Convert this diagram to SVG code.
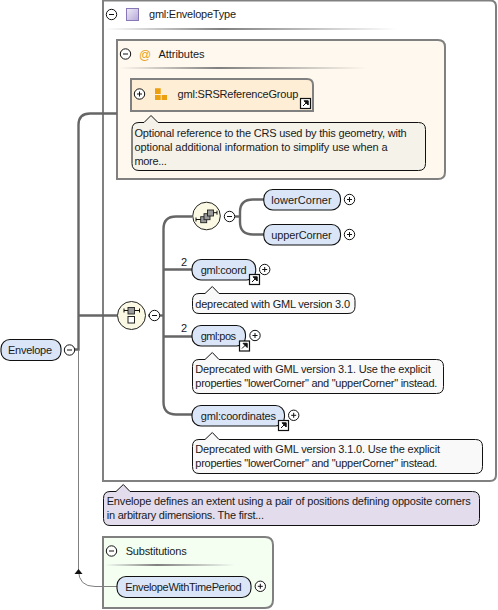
<svg xmlns="http://www.w3.org/2000/svg" width="498" height="610" viewBox="0 0 498 610">
<style>
text{font-family:"Liberation Sans",Arial,sans-serif;font-size:11px;fill:#1a1a1a}
.b{stroke:#808080;stroke-width:2}
.el{fill:#dae6f8;stroke:#111;stroke-width:1.1}
.c{fill:none;stroke:#666;stroke-width:2.4}
.t{fill:#fff;stroke:#111;stroke-width:1}
.s{fill:none;stroke:#111;stroke-width:1}
.note{stroke:#111;stroke-width:1}
.comp{fill:#fbf9e4;stroke:#222;stroke-width:1}
.gr{fill:#999;stroke:#222;stroke-width:.9}
</style>
<defs>
<linearGradient id="sep"><stop offset="0" stop-color="#808080" stop-opacity="0"/><stop offset=".4" stop-color="#808080"/><stop offset="1" stop-color="#808080" stop-opacity="0"/></linearGradient>
<linearGradient id="purp" x1="0" y1="0" x2="1" y2="1"><stop offset="0" stop-color="#f0ecf8"/><stop offset="1" stop-color="#b4a8d8"/></linearGradient>
<g id="minus"><circle r="5.200" class="t"/><path d="M-2.500 0H2.500" class="s"/></g>
<g id="plus"><circle r="5.200" class="t"/><path d="M-2.500 0H2.500M0-2.500V2.500" class="s"/></g>
<g id="link"><rect width="10" height="10" fill="#fff" stroke="#111" stroke-width="1.200"/><path d="M2.500 7.500L6 4M3.500 2.300H7.700V6.500Z" fill="#111" stroke="#111"/></g>
</defs>

<g id="type">
<path d="M103 0.500H490Q496 0.500 496 6.500V475Q496 481 490 481H103Z" fill="#fff" class="b"/>
<use href="#minus" x="111.500" y="14.500"/>
<rect x="126.500" y="8.500" width="12" height="12" fill="url(#purp)" stroke="#8878b8"/>
<text x="149" y="18" textLength="87">gml:EnvelopeType</text>
<rect x="105" y="28" width="292" height="2" fill="url(#sep)"/>
</g>

<g id="attributes">
<path d="M117 40H438Q445 40 445 47V172Q445 179 438 179H117Z" fill="#fff8ee" class="b"/>
<use href="#minus" x="125.500" y="54"/>
<text x="139" y="58.500" style="fill:#e8a020;font-size:12px" textLength="10">@</text>
<text x="158.500" y="58" textLength="46">Attributes</text>
<rect x="119" y="67" width="248" height="2" fill="url(#sep)"/>
</g>

<g id="substitutions">
<path d="M103 537H265Q273 537 273 545V600Q273 608 265 608H103Z" fill="#f4fff2" class="b"/>
<use href="#minus" x="111.500" y="551"/>
<text x="125.700" y="555" textLength="61">Substitutions</text>
<rect x="105" y="564" width="130" height="2" fill="url(#sep)"/>
</g>

<g id="connectors">
<path class="c" d="M75 349.500H78.500V125Q78.500 113.500 90 113.500H117"/>
<path class="c" d="M78 315.500H117"/>
<path class="c" d="M148 315.500H163.500"/>
<path class="c" d="M192 216.500H176Q163.500 216.500 163.500 229V402Q163.500 414.500 176 414.500H192"/>
<path class="c" d="M163.500 269.500H192M163.500 336.500H192"/>
<path class="c" d="M235 216.500H240"/>
<path class="c" d="M264 199.500H253Q240 199.500 240 212V222Q240 234.500 253 234.500H264"/>
<path fill="none" stroke="#808080" stroke-width="1" d="M78.500 350V570Q78.500 586.500 95 586.500H117"/>
<path d="M78.500 569L74.500 574H82.500Z" fill="#111"/>
</g>

<g id="srs">
<path d="M131 79H307Q313 79 313 85V111H131Z" fill="#fdeed5" class="b"/>
<use href="#plus" x="139.500" y="94"/>
<path d="M155 88.300h5.700v5.700h-5.700zM155 95h5.700v5h-5.700zM161.700 95h5.300v5h-5.300z" fill="#eba00f"/>
<text x="177.500" y="97.500" textLength="120.800">gml:SRSReferenceGroup</text>
<use href="#link" x="300.500" y="98.500"/>
</g>
<g id="note-srs">
<path class="note" fill="#f5f2ea" d="M139 122.500H144L151 115.500L158 122.500H418.500Q425.500 122.500 425.500 129.500V163.500Q425.500 170.500 418.500 170.500H139Q132 170.500 132 163.500V129.500Q132 122.500 139 122.500Z"/>
<text x="134.500" y="136.500" textLength="272.200">Optional reference to the CRS used by this geometry, with</text>
<text x="134.500" y="150.500" textLength="253.200">optional additional information to simplify use when a</text>
<text x="134.500" y="164.500" textLength="32.200">more...</text>
</g>

<g id="seq-inner">
<circle cx="206.500" cy="216" r="13.800" class="comp"/>
<rect x="200.700" y="216.700" width="6" height="6" class="gr"/>
<rect x="204" y="213.700" width="6" height="6" class="gr"/>
<rect x="207.500" y="210" width="6" height="6" class="gr"/>
<path d="M196 219.500H200.700M213.500 212.700H217M196 217.500V221.500M217 210.700V214.700" class="s"/>
<use href="#minus" x="229.500" y="216.500"/>
</g>
<g id="lowerCorner">
<rect x="263.800" y="189.500" width="76.700" height="20.500" rx="9" class="el"/>
<text x="271.300" y="204" textLength="60.400">lowerCorner</text>
<use href="#plus" x="349.500" y="199.500"/>
</g>
<g id="upperCorner">
<rect x="263.800" y="224.500" width="76.700" height="20.500" rx="9" class="el"/>
<text x="271.300" y="239" textLength="60.400">upperCorner</text>
<use href="#plus" x="349.500" y="234.500"/>
</g>

<g id="coord">
<text x="181" y="266">2</text>
<rect x="192" y="259.500" width="63.700" height="20.500" rx="9" class="el"/>
<text x="200.700" y="274" textLength="46">gml:coord</text>
<use href="#link" x="249.500" y="274.500"/>
<use href="#plus" x="264.700" y="269.500"/>
</g>
<g id="note-coord">
<path class="note" fill="#f9f9f9" d="M199 293.500H205L212.300 286.500L219 293.500H348Q355 293.500 355 300.500V306.500Q355 313.500 348 313.500H199Q192.500 313.500 192.500 306.500V300.500Q192.500 293.500 199 293.500Z"/>
<text x="195.300" y="307.500" textLength="154.700">deprecated with GML version 3.0</text>
</g>

<g id="choice">
<circle cx="131.500" cy="315.500" r="14" class="comp"/>
<rect x="128" y="307.500" width="6.500" height="6.500" class="gr"/>
<rect x="128" y="316.500" width="6.500" height="6.500" fill="#fff" stroke="#222"/>
<path d="M124 310.500H128M134.500 310.500H139.500M124 308.500V312.500M139.500 308.500V312.500" class="s"/>
<use href="#minus" x="154.500" y="315.500"/>
</g>

<g id="pos">
<text x="181" y="332">2</text>
<rect x="192" y="325.500" width="53.500" height="20.500" rx="9" class="el"/>
<text x="200.700" y="340" textLength="35.300">gml:pos</text>
<use href="#link" x="239.500" y="341"/>
<use href="#plus" x="255" y="335.500"/>
</g>
<g id="note-pos">
<path class="note" fill="#f9f9f9" d="M199 359.500H205L212.300 352.500L219 359.500H436.500Q443.500 359.500 443.500 366.500V386.500Q443.500 393.500 436.500 393.500H199Q192.500 393.500 192.500 386.500V366.500Q192.500 359.500 199 359.500Z"/>
<text x="195.300" y="373" textLength="235.400">Deprecated with GML version 3.1. Use the explicit</text>
<text x="195.300" y="387" textLength="242">properties "lowerCorner" and "upperCorner" instead.</text>
</g>

<g id="coordinates">
<rect x="192" y="405.500" width="92.500" height="20.500" rx="9" class="el"/>
<text x="200.700" y="420" textLength="75.300">gml:coordinates</text>
<use href="#link" x="278.500" y="420.500"/>
<use href="#plus" x="293.700" y="415.300"/>
</g>
<g id="note-coordinates">
<path class="note" fill="#f9f9f9" d="M199 439.500H205L212.300 432.500L219 439.500H475.500Q482.500 439.500 482.500 446.500V466.500Q482.500 473.500 475.500 473.500H199Q192.500 473.500 192.500 466.500V446.500Q192.500 439.500 199 439.500Z"/>
<text x="195.300" y="453" textLength="244.700">Deprecated with GML version 3.1.0. Use the explicit</text>
<text x="195.300" y="467" textLength="242">properties "lowerCorner" and "upperCorner" instead.</text>
</g>

<g id="envelope">
<rect x="1" y="339.500" width="60" height="21" rx="9" class="el"/>
<text x="8" y="354" textLength="44">Envelope</text>
<use href="#minus" x="69.500" y="350"/>
</g>
<g id="note-envelope">
<path class="note" fill="#e3dcec" d="M110 491.500H116L123.300 484.500L130 491.500H472.500Q479.500 491.500 479.500 498.500V518.500Q479.500 525.500 472.500 525.500H110Q103.500 525.500 103.500 518.500V498.500Q103.500 491.500 110 491.500Z"/>
<text x="106.700" y="505" textLength="364">Envelope defines an extent using a pair of positions defining opposite corners</text>
<text x="106.700" y="519" textLength="157.300">in arbitrary dimensions. The first...</text>
</g>

<g id="envelopeWithTimePeriod">
<rect x="117" y="576.500" width="134" height="21" rx="9" class="el"/>
<text x="125.300" y="591" textLength="116.400">EnvelopeWithTimePeriod</text>
<use href="#plus" x="260.300" y="586.300"/>
</g>
</svg>
